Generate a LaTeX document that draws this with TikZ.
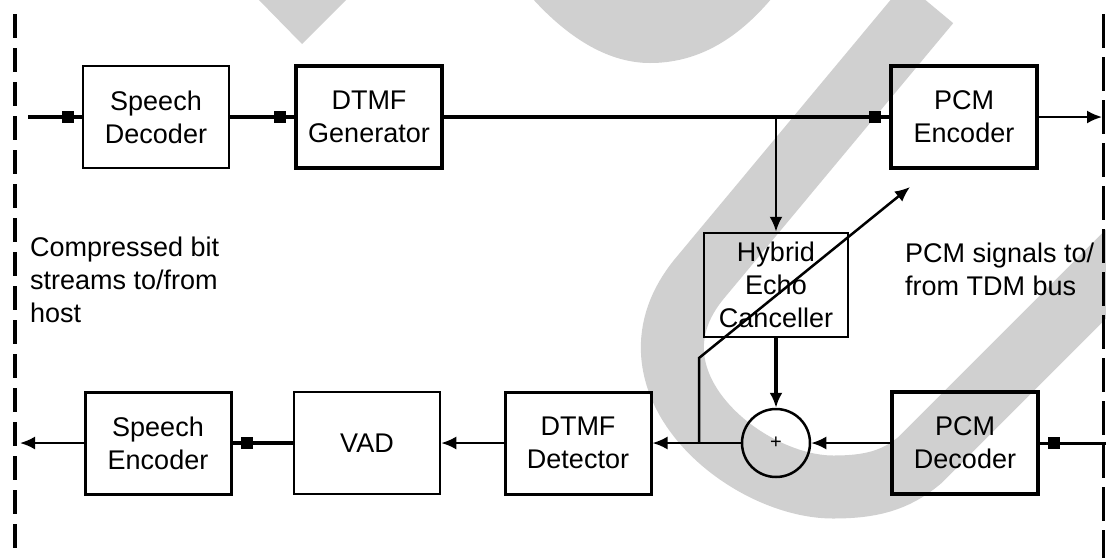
\documentclass[tikz,border=0pt]{standalone}
\usepackage{fontspec}
\setmainfont{Liberation Sans}
\usetikzlibrary{arrows.meta}
\definecolor{wmgray}{RGB}{208,208,208}
\tikzset{
	blk/.style={draw, line width=2.5pt, minimum width=146pt, minimum height=102pt, align=center, inner sep=0pt},
	thk/.style={line width=4pt},
	sig/.style={line width=3.5pt},
	fine/.style={line width=2.2pt},
	mk/.style={-{Rectangle[length=12pt,width=12pt]Rectangle[length=8pt,width=#1,line width=0pt]}},
	mk/.default=3.5pt,
	arr/.style={-{Latex[length=15pt,width=13pt]}},
	wall/.style={line width=4pt, dash pattern=on 24pt off 10pt},
}
\begin{document}
\begin{tikzpicture}[x=1pt,y=-1pt,font=\fontsize{27pt}{33pt}\selectfont]
		\useasboundingbox (0,0) rectangle (1106,558);
		% grey band behind
		\begin{scope}
			\clip (0,0) rectangle (1106,558);
			\fill[wmgray] (257,-2) -- (302,44) -- (348,-2) -- cycle;
			\fill[wmgray] (532,-2) .. controls (570,40) and (610,63) .. (650,63) .. controls (695,63) and (735,42) .. (772,-2) -- cycle;
			\draw[wmgray, line width=63pt] (929,3) -- (700,278) .. controls (615,380) and (745,487) .. (833,487) .. controls (870,487) and (895,481) .. (920,460) -- (1160,220);
		\end{scope}
		
		\draw[wall] (15,14) -- (15,552);
		\draw[wall, line width=3pt, dash pattern=on 34pt off 9pt] (1103,14) -- (1103,558);
		
		\node[blk] (sdec) at (156,117) {Speech\\Decoder};
		\node[blk, thk] (dgen) at (369,117) {DTMF\\Generator};
		\node[blk, line width=3.5pt] (penc) at (964,117) {PCM\\Encoder};
		\node[blk, minimum width=144pt, minimum height=104pt] (hec) at (776,285) {Hybrid\\Echo\\Canceller};
		\node[circle, draw, line width=2.5pt, minimum size=68pt, inner sep=0pt, font=\fontsize{20pt}{20pt}\selectfont] (sum) at (776,443) {+};
		\node[blk, line width=3.5pt] (pdec) at (965,443) {PCM\\Decoder};
		\node[blk, line width=3pt] (ddet) at (578,443) {DTMF\\Detector};
		\node[blk] (vad) at (367,443) {VAD};
		\node[blk, line width=3pt] (senc) at (158,443) {Speech\\Encoder};
		
		\node[anchor=north west, align=left, inner sep=0pt] (host) at (30,237) {Compressed bit\\streams to/from\\host};
		\node[anchor=north west, align=left, inner sep=0pt] (tdm) at (905,243) {PCM signals to/\\from TDM bus};
		
		\coordinate (hostin) at (28,117);
		\coordinate (tdmout) at (1102,117);
		\coordinate (tdmin) at (1106,443);
		\coordinate (hostout) at (20,443);
		\coordinate (br) at (hec.north |- dgen.east);
		\coordinate (fb) at (699,443);
		\coordinate (fbk) at (699,358);
		\coordinate (fbend) at (910,187);
		
		% transmit side
		\draw[sig, mk] (hostin) -- (sdec.west);
		\draw[sig, mk] (sdec.east) -- (dgen.west);
		\draw[sig, mk] (dgen.east) -- (penc.west);
		\draw[fine, arr] (penc.east) -- (tdmout);
		\draw[line width=2.5pt, arr] (br) -- (hec.north);
		
		% receive side
		\draw[line width=3pt, mk=3pt] (tdmin) -- (pdec.east);
		\draw[fine, arr] (pdec.west) -- (sum.east);
		\draw[sig, arr] (hec.south) -- (sum.north);
		\draw[fine, arr] (sum.west) -- (ddet.east);
		\draw[line width=2.5pt, arr] (fb) -- (fbk) -- (fbend);
		\draw[fine, arr] (ddet.west) -- (vad.east);
		\draw[sig, mk] (vad.west) -- (senc.east);
		\draw[fine, arr] (senc.west) -- (hostout);
		
	\end{tikzpicture}
\end{document}
